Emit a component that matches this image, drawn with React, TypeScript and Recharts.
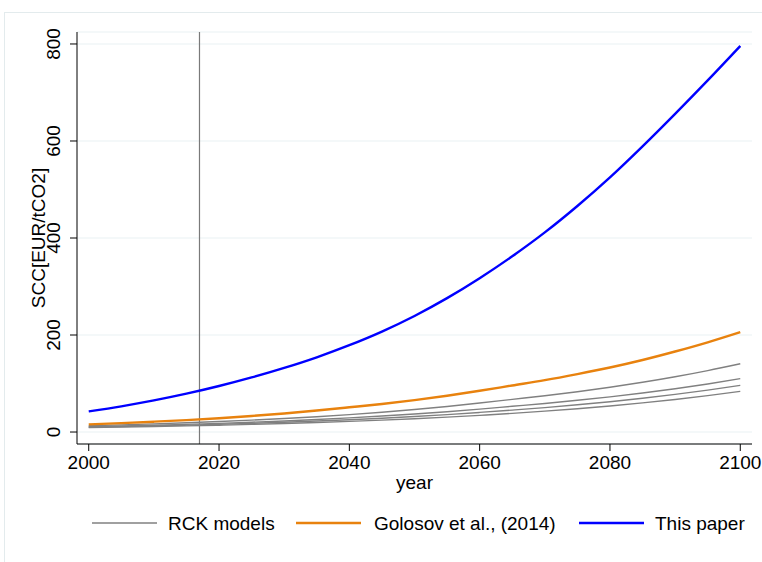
import React from 'react';
import { LineChart, Line, XAxis, YAxis, CartesianGrid, ReferenceLine } from 'recharts';

// years on the x axis (5-year steps)
const years = [
  2000, 2005, 2010, 2015, 2020, 2025, 2030, 2035, 2040, 2045, 2050,
  2055, 2060, 2065, 2070, 2075, 2080, 2085, 2090, 2095, 2100,
];

// SCC in EUR/tCO2
const thisPaper = [
  42.6, 53.0, 65.1, 79.0, 94.8, 112.5, 132.2, 154.1, 179.0, 207.1, 239.3,
  276.0, 317.1, 362.2, 411.5, 466, 525, 589, 656, 725, 796,
];
const golosov = [
  15.8, 18.3, 21.3, 24.6, 28.5, 33.0, 38.3, 44.3, 51.0, 57.9, 65.8,
  74.8, 85.0, 96.0, 107.0, 119.5, 133.0, 148.5, 166.0, 185.0, 206.0,
];
const rck1 = [
  13.0, 14.8, 16.8, 19.0, 21.6, 24.5, 27.9, 31.6, 35.9, 40.8, 46.3,
  52.6, 59.7, 67.3, 74.8, 83.1, 92.3, 102.6, 114.0, 126.7, 140.8,
];
const rck2 = [
  11.0, 12.4, 14.0, 15.8, 17.9, 20.2, 22.8, 25.8, 29.1, 32.9, 37.1,
  41.9, 47.3, 53.1, 58.9, 65.4, 72.5, 80.5, 89.3, 99.1, 110.0,
];
const rck3 = [
  10.0, 11.2, 12.6, 14.2, 15.9, 17.9, 20.1, 22.6, 25.4, 28.5, 32.0,
  35.9, 40.4, 45.2, 50.3, 56.1, 62.5, 69.6, 77.5, 86.3, 96.1,
];
const rck4 = [
  9.0, 10.1, 11.3, 12.6, 14.1, 15.7, 17.6, 19.7, 22.0, 24.6, 27.5,
  30.7, 34.4, 38.4, 43.0, 48.0, 53.7, 60.1, 67.1, 75.1, 83.9,
];

const xTicks = [2000, 2020, 2040, 2060, 2080, 2100];
const yTicks = [0, 200, 400, 600, 800];
const markerYear = 2017;

const data = years.map((year, i) => ({
  year,
  paper: thisPaper[i],
  golosov: golosov[i],
  rck1: rck1[i],
  rck2: rck2[i],
  rck3: rck3[i],
  rck4: rck4[i],
}));

const FONT = "'Liberation Sans', Arial, Helvetica, sans-serif";
const GRAY = '#808080';
const ORANGE = '#e8820e';
const BLUE = '#0000ff';

const YTick = (props: any) => {
  const { x, y, payload } = props;
  return (
    <text
      x={x}
      y={y}
      transform={`rotate(-90 ${x} ${y})`}
      textAnchor="middle"
      fontSize={19}
      fontFamily={FONT}
      fill="#000"
    >
      {payload.value}
    </text>
  );
};

const legendItems = [
  { label: 'RCK models', color: GRAY, width: 1.4, x1: 92, x2: 157, tx: 168 },
  { label: 'Golosov et al., (2014)', color: ORANGE, width: 2.4, x1: 296, x2: 361, tx: 374 },
  { label: 'This paper', color: BLUE, width: 2.4, x1: 579, x2: 644, tx: 655 },
];

export default function App() {
  return (
    <div
      style={{
        position: 'absolute',
        left: 0,
        top: 0,
        width: 762,
        height: 562,
        background: '#fff',
        overflow: 'hidden',
      }}
    >
      <div
        style={{
          position: 'absolute',
          left: 4,
          top: 12,
          width: 900,
          height: 700,
          borderLeft: '1px solid #e3ebed',
          borderTop: '1px solid #e3ebed',
        }}
      />
      <div style={{ position: 'absolute', left: 0, top: 0 }}>
        <LineChart
          width={762}
          height={562}
          data={data}
          margin={{ top: 32, right: 10, left: 0, bottom: 0 }}
        >
          <CartesianGrid vertical={false} stroke="#eaf1f3" strokeWidth={1.2} />
          <XAxis
            dataKey="year"
            type="number"
            domain={[1998.2, 2101.8]}
            allowDataOverflow
            ticks={xTicks}
            height={118}
            tickSize={7}
            tickMargin={5}
            stroke="#000"
            tick={{ fontSize: 19, fontFamily: FONT, fill: '#000' }}
            label={(p: any) => {
              const vb = p.viewBox || { x: 77, y: 444, width: 675 };
              return (
                <text
                  x={vb.x + vb.width / 2}
                  y={vb.y + 45}
                  textAnchor="middle"
                  fontSize={19}
                  fontFamily={FONT}
                  fill="#000"
                >
                  year
                </text>
              );
            }}
          />
          <YAxis
            type="number"
            domain={[-24.7, 824.7]}
            allowDataOverflow
            ticks={yTicks}
            width={77}
            tickSize={7}
            tickMargin={10}
            stroke="#000"
            tick={<YTick />}
            label={(p: any) => {
              const vb = p.viewBox || { x: 0, y: 32, width: 77, height: 412 };
              const cy = vb.y + vb.height / 2;
              return (
                <text
                  x={45}
                  y={cy}
                  transform={`rotate(-90 45 ${cy})`}
                  textAnchor="middle"
                  fontSize={19}
                  fontFamily={FONT}
                  fill="#000"
                >
                  SCC[EUR/tCO2]
                </text>
              );
            }}
          />
          <ReferenceLine x={markerYear} stroke="#7a7a7a" strokeWidth={1.2} />
          <Line type="monotone" dataKey="rck1" stroke={GRAY} strokeWidth={1.4} dot={false} isAnimationActive={false} />
          <Line type="monotone" dataKey="rck2" stroke={GRAY} strokeWidth={1.4} dot={false} isAnimationActive={false} />
          <Line type="monotone" dataKey="rck3" stroke={GRAY} strokeWidth={1.4} dot={false} isAnimationActive={false} />
          <Line type="monotone" dataKey="rck4" stroke={GRAY} strokeWidth={1.4} dot={false} isAnimationActive={false} />
          <Line type="monotone" dataKey="golosov" stroke={ORANGE} strokeWidth={2.4} dot={false} isAnimationActive={false} />
          <Line type="monotone" dataKey="paper" stroke={BLUE} strokeWidth={2.4} dot={false} isAnimationActive={false} />
        </LineChart>
      </div>
      <svg
        width={762}
        height={60}
        style={{ position: 'absolute', left: 0, top: 500 }}
      >
        {legendItems.map((it) => (
          <g key={it.label}>
            <line x1={it.x1} x2={it.x2} y1={23} y2={23} stroke={it.color} strokeWidth={it.width} />
            <text x={it.tx} y={30} fontSize={19} fontFamily={FONT} fill="#000">
              {it.label}
            </text>
          </g>
        ))}
      </svg>
    </div>
  );
}
